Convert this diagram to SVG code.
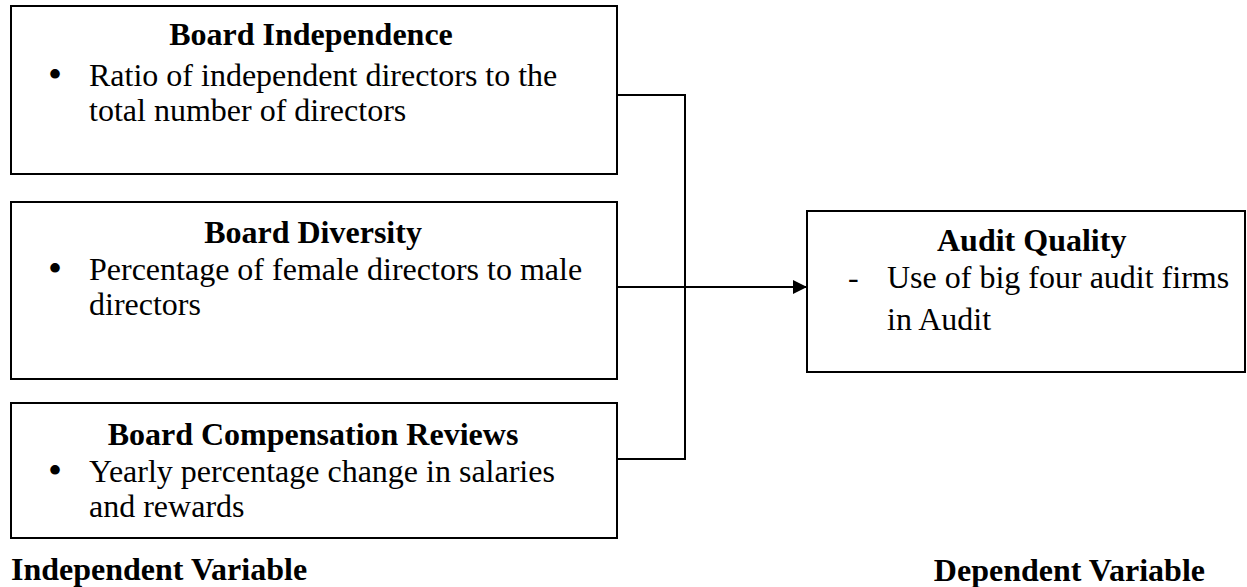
<svg xmlns="http://www.w3.org/2000/svg" width="1247" height="587" viewBox="0 0 1247 587">
<defs>
<style>
.box{fill:#fff;stroke:#000;stroke-width:2}
.t{font-family:"Liberation Serif","Times New Roman",serif;font-size:32px;fill:#000}
.b{font-weight:bold}
.bl{font-size:40px}
.ln{stroke:#000;stroke-width:2;fill:none}
</style>
<marker id="ah" viewBox="0 0 10 10" refX="10" refY="5" markerWidth="15" markerHeight="14" markerUnits="userSpaceOnUse" orient="auto"><path d="M0,0L10,5L0,10z" fill="#000"/></marker>
</defs>
<rect width="1247" height="587" fill="#fff"/>
<g id="connectors">
<path class="ln" d="M617,95H685V459H617"/>
<path class="ln" d="M617,287H685"/>
<path class="ln" d="M678,287H807" stroke-width="3" marker-end="url(#ah)"/>
</g>
<g id="board-independence">
<rect class="box" x="11" y="6" width="606" height="168"/>
<text class="t b" x="311" y="45" text-anchor="middle">Board Independence</text>
<text class="t bl" x="48" y="88">•</text>
<text class="t" x="89" y="86">Ratio of independent directors to the</text>
<text class="t" x="89" y="121">total number of directors</text>
</g>
<g id="board-diversity">
<rect class="box" x="11" y="202" width="606" height="177"/>
<text class="t b" x="313" y="243" text-anchor="middle">Board Diversity</text>
<text class="t bl" x="48" y="282">•</text>
<text class="t" x="89" y="280">Percentage of female directors to male</text>
<text class="t" x="89" y="315">directors</text>
</g>
<g id="board-compensation">
<rect class="box" x="11" y="403" width="606" height="135"/>
<text class="t b" x="313" y="445" text-anchor="middle">Board Compensation Reviews</text>
<text class="t bl" x="48" y="484">•</text>
<text class="t" x="89" y="482">Yearly percentage change in salaries</text>
<text class="t" x="89" y="517">and rewards</text>
</g>
<g id="audit-quality">
<rect class="box" x="807" y="211" width="438" height="161"/>
<text class="t b" x="937" y="251">Audit Quality</text>
<text class="t" x="848" y="288">-</text>
<text class="t" x="887" y="288">Use of big four audit firms</text>
<text class="t" x="887" y="330">in Audit</text>
</g>
<g id="labels">
<text class="t b" x="11" y="580">Independent Variable</text>
<text class="t b" x="1205" y="581" text-anchor="end">Dependent Variable</text>
</g>
</svg>
